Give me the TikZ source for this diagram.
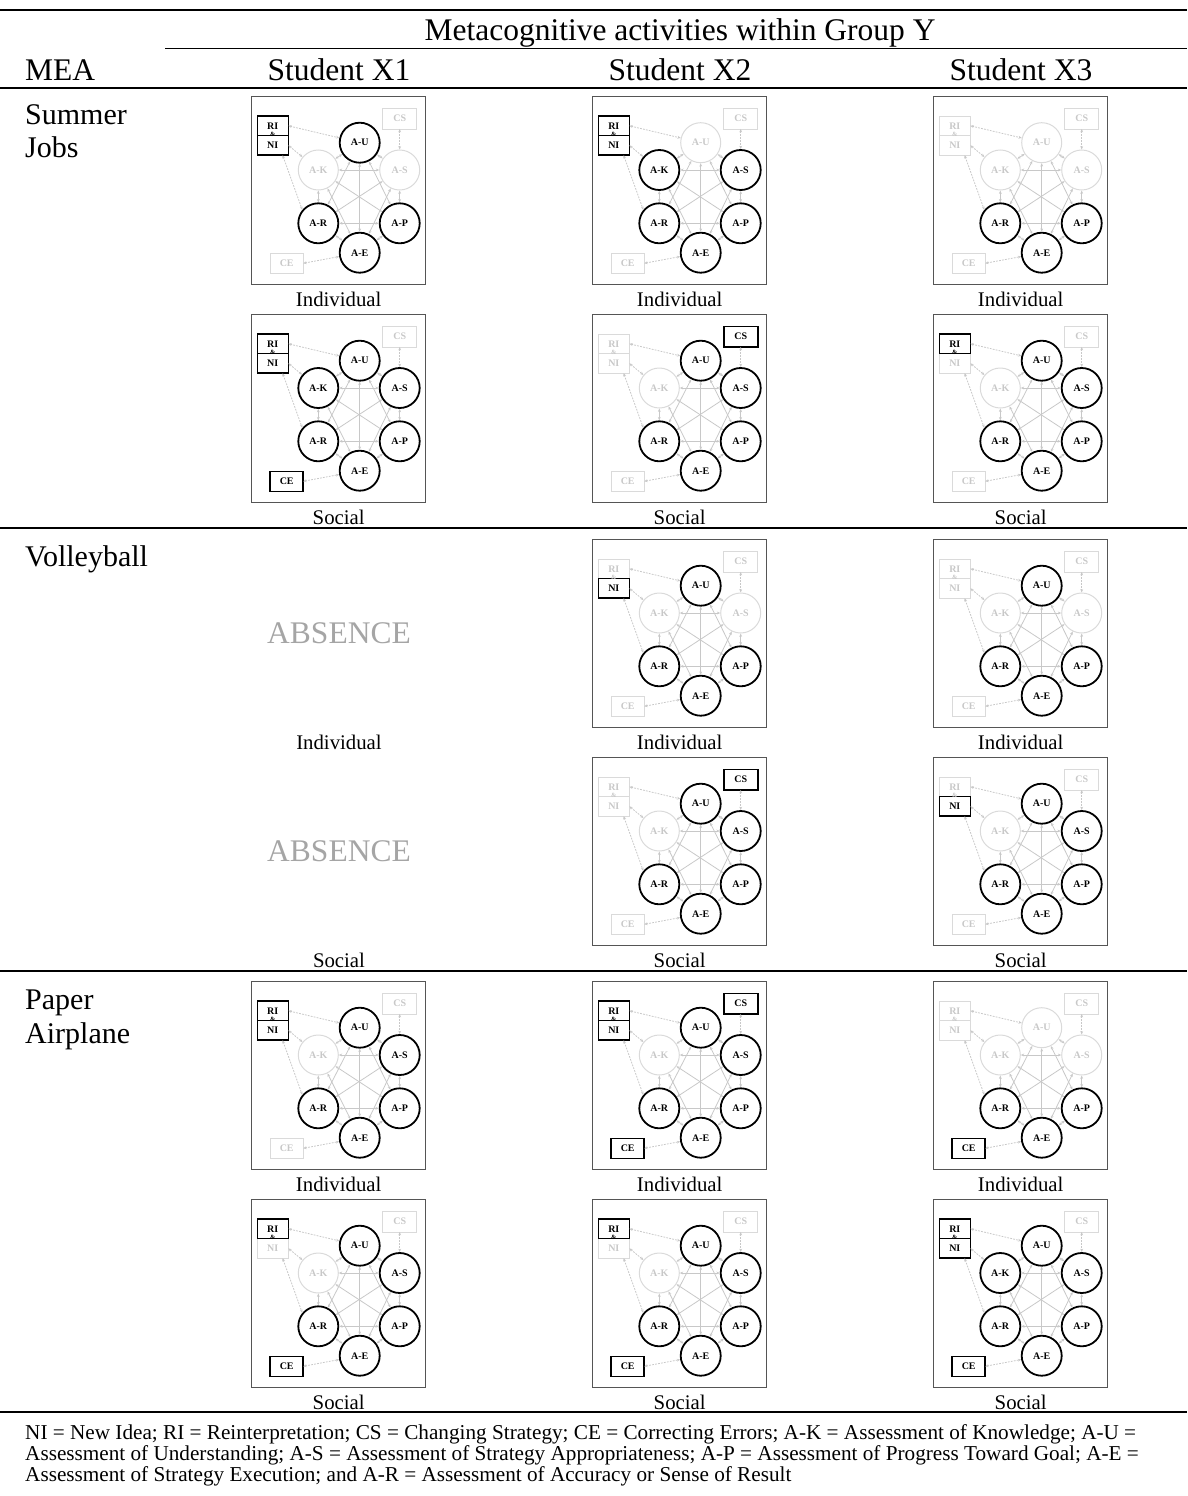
\documentclass[tikz,border=0pt]{standalone}
\usepackage{fontspec}
\setmainfont{Liberation Serif}
\usetikzlibrary{arrows.meta}
\definecolor{offc}{RGB}{218,218,218}
\definecolor{offt}{RGB}{200,200,200}
\definecolor{edgec}{RGB}{200,200,200}
\definecolor{framec}{RGB}{85,85,85}
\definecolor{absc}{RGB}{165,165,165}

\newcommand\hdrfont{\fontsize{31.5}{33}\selectfont}
\newcommand\rowfont{\fontsize{30}{33}\selectfont}
\newcommand\capfont{\fontsize{20.8}{22}\selectfont}
\newcommand\notefont{\fontsize{21.2}{21}\selectfont}
\newcommand\lblfont{\fontsize{10}{10}\selectfont\bfseries}
\newcommand\ampfont{\fontsize{6.5}{6.5}\selectfont\bfseries}

\tikzset{
 txt/.style={inner sep=0pt},
 cirOn/.style={circle, draw=black, line width=1.8pt, minimum size=40pt, inner sep=0pt, font=\lblfont, text=black},
 cirOff/.style={circle, draw=offc, line width=1pt, minimum size=40pt, inner sep=0pt, font=\lblfont, text=offt},
 boxbase/.style={rectangle, inner sep=0pt, outer sep=0pt, font=\lblfont},
 boxOn/.style={boxbase, draw=black, line width=1.6pt, text=black},
 boxOff/.style={boxbase, draw=offc, line width=0.9pt, text=offt},
 stU/.style=cirOff, stK/.style=cirOff, stS/.style=cirOff,
 stR/.style=cirOff, stP/.style=cirOff, stE/.style=cirOff,
 stRI/.style=boxOff, stNI/.style=boxOff, stCS/.style=boxOff, stCE/.style=boxOff,
 stAmp/.style={text=offt},
 brdRI/.style={}, brdNI/.style={},
 onU/.style={stU/.style=cirOn},
 onK/.style={stK/.style=cirOn},
 onS/.style={stS/.style=cirOn},
 onR/.style={stR/.style=cirOn},
 onP/.style={stP/.style=cirOn},
 onE/.style={stE/.style=cirOn},
 onRI/.style={stRI/.style=boxOn, stAmp/.style={text=black}, brdRI/.style={draw=black, line width=1.6pt}},
 onNI/.style={stNI/.style=boxOn, brdNI/.style={draw=black, line width=1.6pt}},
 onCS/.style={stCS/.style=boxOn},
 onCE/.style={stCE/.style=boxOn},
 lnk/.style={draw=edgec, line width=0.8pt, {Stealth[length=3.4pt,width=2.8pt]}-{Stealth[length=3.4pt,width=2.8pt]}},
 dlnk/.style={lnk, dash pattern=on 1.8pt off 1.2pt},
 pframe/.style={draw=framec, line width=1.2pt},
 rule/.style={draw=black, line width=2pt},
}

\newcommand\panel[4]{%
\begin{scope}[shift={(#2)}, #3]
 \draw[pframe] (0,0) rectangle (174,188);
 \node[stU] (#1U) at (108,46) {A-U};
 \node[stK] (#1K) at (66.6,73.3) {A-K};
 \node[stS] (#1S) at (148,73.3) {A-S};
 \node[stR] (#1R) at (66.6,126.6) {A-R};
 \node[stP] (#1P) at (148,126.6) {A-P};
 \node[stE] (#1E) at (108,156) {A-E};
 \node[stRI, minimum width=31pt, minimum height=19.5pt] (#1RI) at (21.1,29.1) {RI};
 \node[stNI, minimum width=31pt, minimum height=19.5pt] (#1NI) at (21.1,48.6) {NI};
 \path[brdRI] (#1RI.north west) rectangle (#1RI.south east);
 \path[brdNI] (#1NI.north west) rectangle (#1NI.south east);
 \node[stAmp, font=\ampfont, inner sep=0pt] (#1amp) at (21.1,37.2) {\&};
 \node[stCS, minimum width=34pt, minimum height=20.5pt] (#1CS) at (148,22) {CS};
 \node[stCE, minimum width=33pt, minimum height=20pt] (#1CE) at (35,166.6) {CE};
 \foreach \a/\b in {U/K,U/S,U/R,U/P,U/E,K/S,K/R,K/P,K/E,S/R,S/P,S/E,R/P,R/E,P/E}
   \draw[lnk] (#1\a) -- (#1\b);
 \draw[dlnk] (#1RI.east) -- (#1U);
 \draw[dlnk] (#1NI.east) -- (#1K);
 \draw[dlnk] (#1NI.-45) -- (#1R.140);
 \draw[dlnk] (#1CS.south) -- (#1S.north);
 \draw[dlnk] (#1CE.east) -- (#1E);
 \node[txt, font=\capfont, anchor=base] (#1cap) at (87,210) {#4};
\end{scope}}

\begin{document}
\begin{tikzpicture}[x=1pt, y=-1pt]
\useasboundingbox (0,0) rectangle (1187,1496);
% header
\coordinate (tl) at (0,10); \coordinate (tr) at (1187,10);
\draw[rule, line width=2.4pt] (tl) -- (tr);
\node[txt, font=\hdrfont, anchor=base] (meta) at (680,41) {Metacognitive activities within Group Y};
\coordinate (r2l) at (165,48.5); \coordinate (r2r) at (1187,48.5);
\draw[rule, line width=1.6pt] (r2l) -- (r2r);
\node[txt, font=\hdrfont, anchor=base west] (mea) at (25,80.5) {MEA};
\node[txt, font=\hdrfont, anchor=base] (s1) at (339,80.5) {Student X1};
\node[txt, font=\hdrfont, anchor=base] (s2) at (680,80.5) {Student X2};
\node[txt, font=\hdrfont, anchor=base] (s3) at (1021,80.5) {Student X3};
\coordinate (r3l) at (0,88); \coordinate (r3r) at (1187,88);
\draw[rule] (r3l) -- (r3r);
% row labels
\node[txt, font=\rowfont, anchor=base west] (sj1) at (25,124.5) {Summer};
\node[txt, font=\rowfont, anchor=base west] (sj2) at (25,157.5) {Jobs};
\node[txt, font=\rowfont, anchor=base west] (vb) at (25,566.5) {Volleyball};
\node[txt, font=\rowfont, anchor=base west] (pa1) at (25,1009.5) {Paper};
\node[txt, font=\rowfont, anchor=base west] (pa2) at (25,1043.5) {Airplane};
% separators
\coordinate (s4l) at (0,528); \coordinate (s4r) at (1187,528);
\draw[rule] (s4l) -- (s4r);
\coordinate (s5l) at (0,971); \coordinate (s5r) at (1187,971);
\draw[rule] (s5l) -- (s5r);
\coordinate (s6l) at (0,1412); \coordinate (s6r) at (1187,1412);
\draw[rule] (s6l) -- (s6r);
% Summer Jobs
\panel{a}{251.7,96.7}{onRI,onNI,onU,onR,onP,onE}{Individual}
\panel{b}{592.7,96.7}{onRI,onNI,onK,onS,onR,onP,onE}{Individual}
\panel{c}{933.7,96.7}{onR,onP,onE}{Individual}
\panel{d}{251.7,314.7}{onRI,onNI,onU,onK,onS,onR,onP,onE,onCE}{Social}
\panel{e}{592.7,314.7}{onCS,onU,onS,onR,onP,onE}{Social}
\panel{f}{933.7,314.7}{onRI,onU,onS,onR,onP,onE}{Social}
% Volleyball
\node[txt, font=\hdrfont, text=absc, anchor=base] (abs1) at (339,643.5) {ABSENCE};
\node[txt, font=\capfont, anchor=base] (abs1cap) at (339,749.7) {Individual};
\node[txt, font=\hdrfont, text=absc, anchor=base] (abs2) at (339,861.5) {ABSENCE};
\node[txt, font=\capfont, anchor=base] (abs2cap) at (339,967.7) {Social};
\panel{g}{592.7,539.7}{onNI,onU,onR,onP,onE}{Individual}
\panel{h}{933.7,539.7}{onU,onR,onP,onE}{Individual}
\panel{i}{592.7,757.7}{onCS,onU,onS,onR,onP,onE}{Social}
\panel{j}{933.7,757.7}{onNI,onU,onS,onR,onP,onE}{Social}
% Paper Airplane
\panel{k}{251.7,981.7}{onRI,onNI,onU,onS,onR,onP,onE}{Individual}
\panel{l}{592.7,981.7}{onRI,onNI,onCS,onCE,onU,onS,onR,onP,onE}{Individual}
\panel{m}{933.7,981.7}{onCE,onR,onP,onE}{Individual}
\panel{n}{251.7,1199.7}{onRI,onCE,onU,onS,onR,onP,onE}{Social}
\panel{o}{592.7,1199.7}{onRI,onCE,onU,onS,onR,onP,onE}{Social}
\panel{p}{933.7,1199.7}{onRI,onNI,onCE,onU,onK,onS,onR,onP,onE}{Social}
% footnote
\node[txt, font=\notefont, anchor=base west] (fn1) at (25,1439) {NI = New Idea; RI = Reinterpretation; CS = Changing Strategy; CE = Correcting Errors; A-K = Assessment of Knowledge; A-U =};
\node[txt, font=\notefont, anchor=base west] (fn2) at (25,1460) {Assessment of Understanding; A-S = Assessment of Strategy Appropriateness; A-P = Assessment of Progress Toward Goal; A-E =};
\node[txt, font=\notefont, anchor=base west] (fn3) at (25,1481) {Assessment of Strategy Execution; and A-R = Assessment of Accuracy or Sense of Result};
\end{tikzpicture}
\end{document}
